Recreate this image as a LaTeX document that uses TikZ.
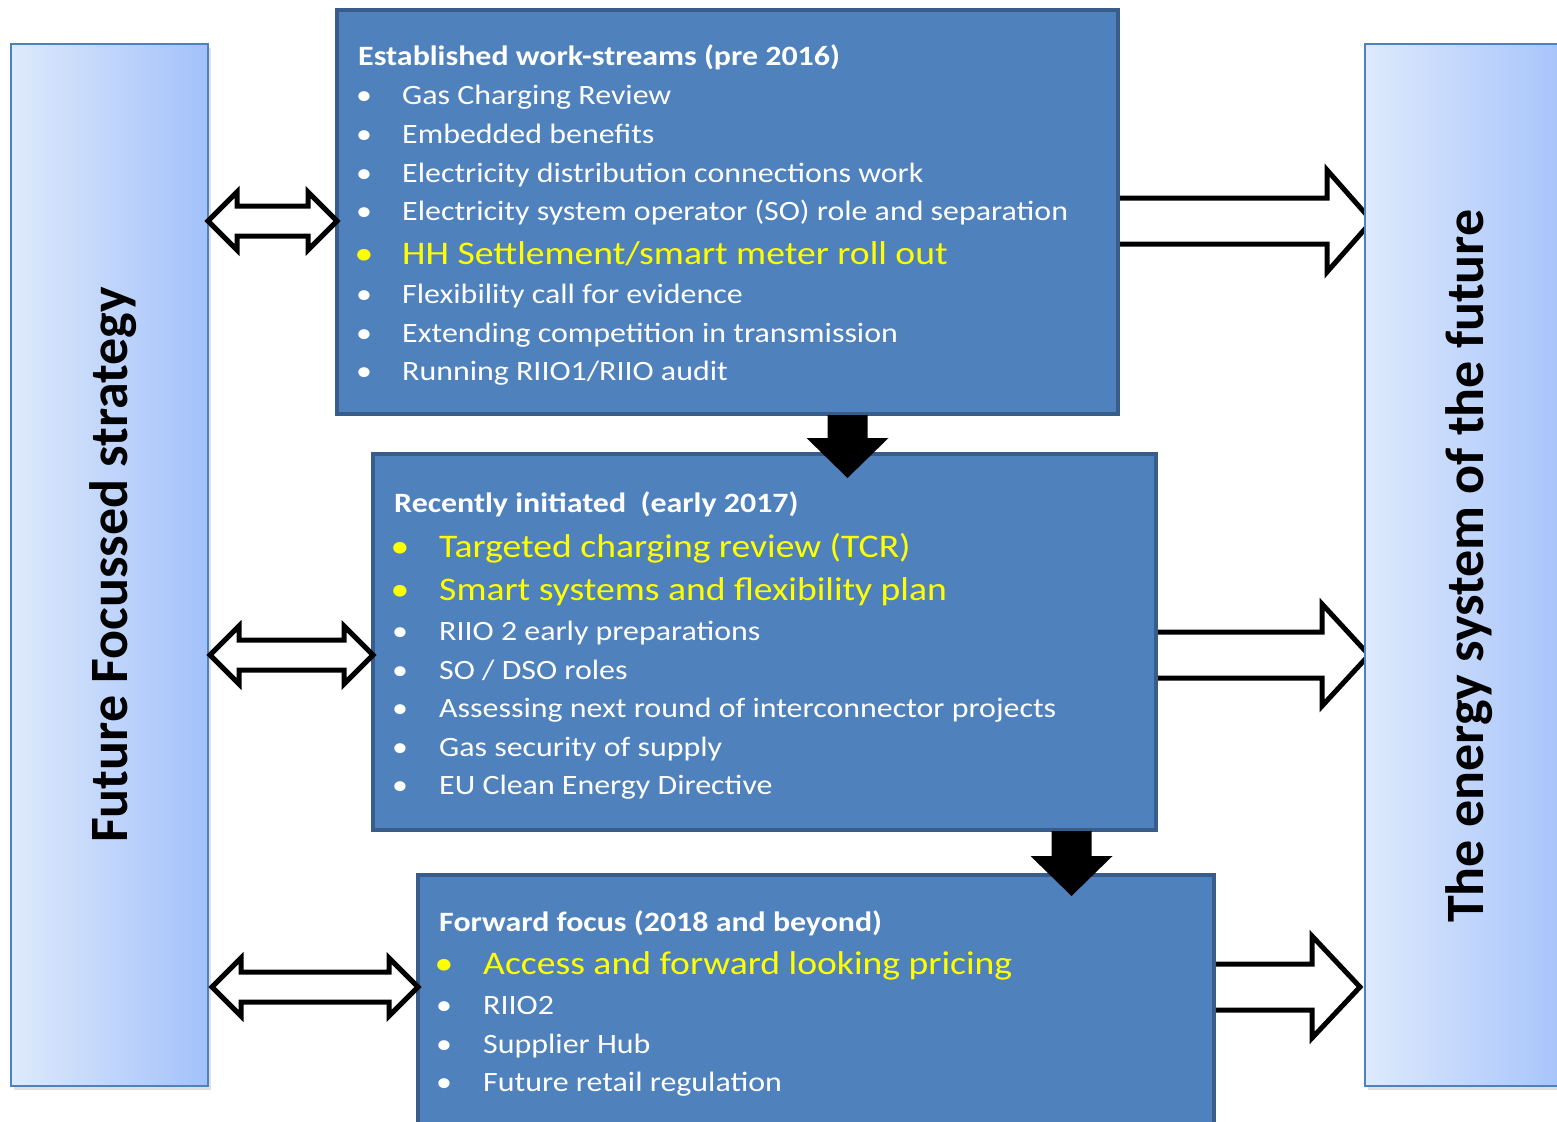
\documentclass[tikz,border=0pt]{standalone}
\usepackage{fontspec}
\setmainfont{Carlito}
\usetikzlibrary{calc}
\usetikzlibrary{shadows}
\definecolor{boxfill}{RGB}{79,129,189}
\definecolor{boxline}{RGB}{56,93,138}
\definecolor{sidel}{RGB}{222,234,252}
\definecolor{sider}{RGB}{163,193,250}
\definecolor{hotyellow}{RGB}{255,255,0}
\tikzset{pxgrid/.style={
  x=1pt,
  y=-1pt
}}
\tikzset{side/.style={
  draw=boxfill,
  line width=2pt,
  left color=sidel,
  right color=sider,
  drop shadow={shadow xshift=3pt,shadow yshift=-4pt,opacity=0.25}
}}
\tikzset{stream/.style={
  draw=boxline,
  line width=4pt,
  fill=boxfill,
  shape=rectangle,
  inner sep=0pt,
  outer sep=0pt,
  anchor=north west
}}
\tikzset{item/.style={anchor=base west,inner sep=0pt,text=white,xscale=1.14,
  font=\fontsize{28}{32}\selectfont}}
\tikzset{hot/.style={item,text=hotyellow,font=\fontsize{33}{38}\selectfont}}
\tikzset{head/.style={item,font=\fontsize{28}{32}\selectfont\bfseries}}
\tikzset{sidetext/.style={inner sep=0pt,rotate=90,
  font=\fontsize{54}{60}\selectfont\bfseries}}
\tikzset{hollow/.style={draw=black,fill=white,line width=5pt,line join=miter}}
\tikzset{solid/.style={fill=black,draw=none}}
% two way hollow arrow between two points on one level
\newcommand{\twoway}[2]{%
  \draw[hollow] (#1) -- ($(#1)+(29,-29)$) -- ($(#1)+(29,-15)$)
    -- ($(#2)+(-29,-15)$) -- ($(#2)+(-29,-29)$) -- (#2)
    -- ($(#2)+(-29,29)$) -- ($(#2)+(-29,15)$)
    -- ($(#1)+(29,15)$) -- ($(#1)+(29,29)$) -- cycle;}
% one way hollow arrow, #3 = head length
\newcommand{\oneway}[3]{%
  \draw[hollow] ($(#1)+(0,-23)$) -- ($(#2)+(-#3,-23)$) -- ($(#2)+(-#3,-51)$)
    -- (#2) -- ($(#2)+(-#3,51)$) -- ($(#2)+(-#3,23)$) -- ($(#1)+(0,23)$);}
% solid arrow going down
\newcommand{\downway}[2]{%
  \fill[solid] ($(#1)+(-20,0)$) -- ($(#2)+(-20,-40)$) -- ($(#2)+(-41,-40)$)
    -- (#2) -- ($(#2)+(41,-40)$) -- ($(#2)+(20,-40)$) -- ($(#1)+(20,0)$) -- cycle;}

\begin{document}
\begin{tikzpicture}[pxgrid]
  \useasboundingbox (0,0) rectangle (1557,1121);

  % Work-stream boxes
  \node[stream,minimum width=781pt,minimum height=404pt] (box1) at (337,10) {};
  \node[stream,minimum width=783pt,minimum height=376pt] (box2) at (373,454) {};
  \node[stream,minimum width=796pt,minimum height=290pt] (box3) at (418,875) {};

  % Arrows towards the future
  \coordinate (f1) at ($(box1.east |- 0,221)+(2,0)$);
  \coordinate (g1) at (1372,221);
  \coordinate (f2) at ($(box2.east |- 0,655)+(2,0)$);
  \coordinate (g2) at (1369,655);
  \coordinate (f3) at ($(box3.east |- 0,987)+(2,0)$);
  \coordinate (g3) at (1360,987);
  \oneway{f1}{g1}{45}
  \oneway{f2}{g2}{47}
  \oneway{f3}{g3}{48}

  % Side panels
  \node[side,minimum width=197pt,minimum height=1042pt,inner sep=0pt,
    outer sep=0pt,anchor=north west] (lside) at (11,44) {};
  \node[side,minimum width=210pt,minimum height=1042pt,inner sep=0pt,
    outer sep=0pt,anchor=north west] (rside) at (1365,44) {};
  \node[sidetext] (ltitle) at (113,565) {Future Focussed strategy};
  \node[sidetext] (rtitle) at (1469,566) {The energy system of the future};

  % Arrows to the strategy
  \coordinate (s1) at (lside.east |- 0,221);
  \coordinate (t1) at (box1.west |- 0,221);
  \coordinate (s2) at ($(lside.east |- 0,655)+(2,0)$);
  \coordinate (t2) at (box2.west |- 0,655);
  \coordinate (s3) at ($(lside.east |- 0,987)+(4,0)$);
  \coordinate (t3) at (box3.west |- 0,987);
  \twoway{s1}{t1}
  \twoway{s2}{t2}
  \twoway{s3}{t3}

  % Down arrows
  \coordinate (d1) at ($(box1.south)+(120,1)$);
  \coordinate (e1) at (d1 |- 0,478);
  \coordinate (d2) at ($(box2.south)+(307,1)$);
  \coordinate (e2) at (d2 |- 0,896);
  \downway{d1}{e1}
  \downway{d2}{e2}

  % Box texts
  \node[head] (h1) at (358,66) {Established work-streams (pre 2016)};
  \foreach \txt/\yy/\sty [count=\i] in {
      {Gas Charging Review}/105/item,
      {Embedded benefits}/143/item,
      {Electricity distribution connections work}/182/item,
      {Electricity system operator (SO) role and separation}/220/item,
      {HH Settlement/smart meter roll out}/264/hot,
      {Flexibility call for evidence}/303/item,
      {Extending competition in transmission}/342/item,
      {Running RIIO1/RIIO audit}/380/item}{
    \node[\sty,anchor=base] (b1d\i) at (364,\yy) {•};
    \node[\sty] (b1t\i) at (402,\yy) {\txt};
  }

  \node[head] (h2) at (394,512) {Recently initiated\ \ (early 2017)};
  \foreach \txt/\yy/\sty [count=\i] in {
      {Targeted charging review (TCR)}/557/hot,
      {Smart systems and flexibility plan}/600/hot,
      {RIIO 2 early preparations}/640/item,
      {SO / DSO roles}/679/item,
      {Assessing next round of interconnector projects}/717/item,
      {Gas security of supply}/756/item,
      {EU Clean Energy Directive}/794/item}{
    \node[\sty,anchor=base] (b2d\i) at (400,\yy) {•};
    \node[\sty] (b2t\i) at (439,\yy) {\txt};
  }

  \node[head] (h3) at (439,931) {Forward focus (2018 and beyond)};
  \foreach \txt/\yy/\sty [count=\i] in {
      {Access and forward looking pricing}/974/hot,
      {RIIO2}/1014/item,
      {Supplier Hub}/1053/item,
      {Future retail regulation}/1091/item}{
    \node[\sty,anchor=base] (b3d\i) at (444,\yy) {•};
    \node[\sty] (b3t\i) at (483,\yy) {\txt};
  }
\end{tikzpicture}
\end{document}
